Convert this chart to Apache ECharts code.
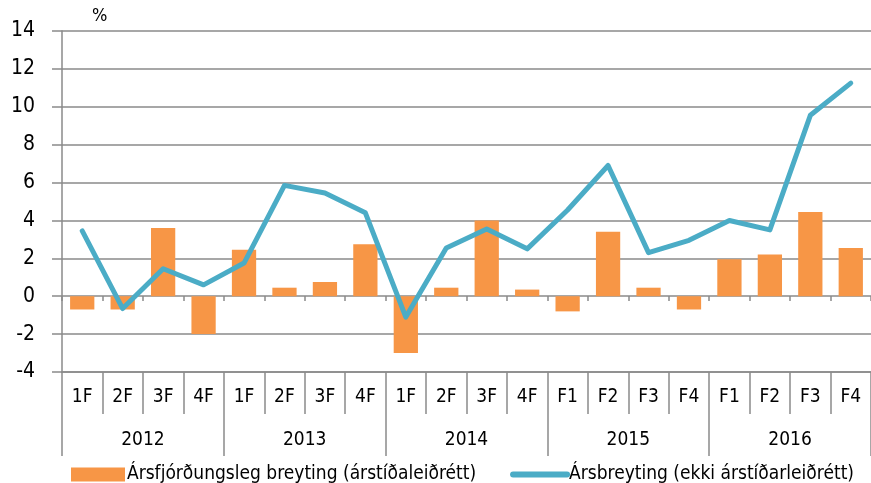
<!DOCTYPE html>
<html>
<head>
<meta charset="utf-8">
<script src="https://cdn.jsdelivr.net/npm/echarts@6/dist/echarts.min.js"></script>
<style>
  html, body { margin: 0; padding: 0; background: #fff; }
  #chart { width: 871px; height: 483px; }
</style>
</head>
<body>
<div id="chart"></div>
<script>
const quarters = ["1F", "2F", "3F", "4F", "1F", "2F", "3F", "4F", "1F", "2F", "3F", "4F",
  "F1", "F2", "F3", "F4", "F1", "F2", "F3", "F4"];
const years = ["2012", "2013", "2014", "2015", "2016"];
const quarterly = [-0.7, -0.7, 3.6, -2.0, 2.45, 0.45, 0.75, 2.75, -3.0, 0.45, 4.0, 0.35,
  -0.8, 3.4, 0.45, -0.7, 1.95, 2.2, 4.45, 2.55];
const annual = [3.45, -0.65, 1.45, 0.6, 1.75, 5.85, 5.45, 4.4, -1.1, 2.55, 3.55, 2.5,
  4.55, 6.9, 2.3, 2.95, 4.0, 3.5, 9.55, 11.25];

const font = "'DejaVu Sans Condensed', 'Liberation Sans', sans-serif";
const gray = "#8a8a8a";

const chart = echarts.init(document.getElementById("chart"));
chart.setOption({
  animation: false,
  textStyle: { fontFamily: font, color: "#000" },
  grid: { left: 62, right: 0, top: 31, bottom: 111 },
  legend: {
    left: 66,
    top: 460,
    itemGap: 34,
    itemWidth: 54,
    itemHeight: 14,
    textStyle: { fontSize: 19, fontFamily: font, color: "#000", padding: [0, 0, 0, -3] },
    data: [
      { name: "Ársfjórðungsleg breyting (árstíðaleiðrétt)", icon: "rect" },
      {
        name: "Ársbreyting (ekki árstíðarleiðrétt)",
        itemStyle: { color: "rgba(0,0,0,0)", borderWidth: 0 },
        lineStyle: { color: "#4BACC6", width: 6, cap: "round" },
      },
    ],
  },
  xAxis: [
    {
      type: "category",
      data: quarters,
      position: "bottom",
      axisLine: { show: true, onZero: false, lineStyle: { color: gray, width: 1.5 } },
      axisTick: { show: true, interval: 0, length: 42, lineStyle: { color: gray, width: 1.5 } },
      axisLabel: { interval: 0, margin: 16, fontSize: 19, color: "#000", fontFamily: font },
      splitLine: { show: false },
    },
    {
      type: "category",
      data: years,
      position: "bottom",
      axisLine: { show: false, onZero: false },
      axisTick: { show: true, interval: 0, length: 84, lineStyle: { color: gray, width: 1.5 } },
      axisLabel: { interval: 0, margin: 59, fontSize: 19, color: "#000", fontFamily: font },
      splitLine: { show: false },
    },
    {
      type: "category",
      data: quarters,
      position: "top",
      offset: -265,
      axisLine: { show: false, onZero: false },
      axisTick: { show: true, inside: true, interval: 0, length: 5, lineStyle: { color: gray, width: 1.5 } },
      axisLabel: { show: false },
      splitLine: { show: false },
    },
  ],
  yAxis: {
    type: "value",
    min: -4,
    max: 14,
    interval: 2,
    name: "%",
    nameLocation: "end",
    nameGap: 6,
    nameTextStyle: { fontSize: 18, color: "#000", align: "left", padding: [0, 0, 0, 30], fontFamily: font },
    axisLine: { show: true, lineStyle: { color: gray, width: 1.5 } },
    axisTick: { show: true, length: 10, lineStyle: { color: gray, width: 1.5 } },
    axisLabel: { fontSize: 21, color: "#000", margin: 27, fontFamily: font },
    splitLine: { show: true, lineStyle: { color: gray, width: 1.5 } },
  },
  series: [
    {
      name: "Ársfjórðungsleg breyting (árstíðaleiðrétt)",
      type: "bar",
      data: quarterly,
      barWidth: "60%",
      itemStyle: { color: "#F79646" },
    },
    {
      name: "Ársbreyting (ekki árstíðarleiðrétt)",
      type: "line",
      data: annual,
      symbol: "none",
      lineStyle: { color: "#4BACC6", width: 5, cap: "round", join: "round" },
      itemStyle: { color: "#4BACC6" },
    },
  ],
});
</script>
</body>
</html>
